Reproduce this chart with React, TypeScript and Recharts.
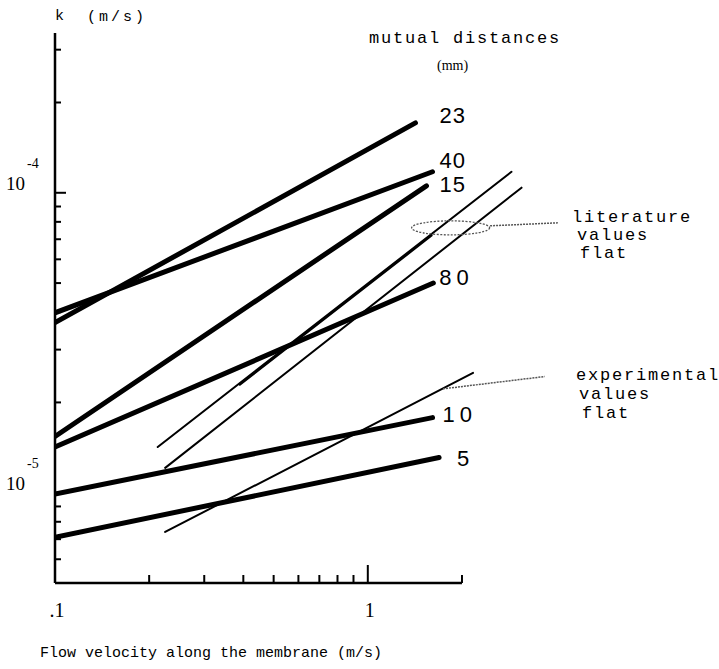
import { LineChart, Line, XAxis, YAxis, ReferenceLine, ReferenceDot, Customized } from "recharts";

// flow velocity (m/s) vs k (m/s), log-log
const xTicks = [0.1, 0.2, 0.3, 0.4, 0.5, 0.6, 0.7, 0.8, 0.9, 1, 2];
const xLabelled = [0.1, 1];
const xLabelText = [".1", "1"];
const yTicks = [6e-6, 7e-6, 8e-6, 9e-6, 1e-5, 2e-5, 3e-5, 4e-5, 5e-5, 6e-5, 7e-5, 8e-5, 9e-5, 1e-4, 2e-4, 3e-4];
const yDecades = [1e-5, 1e-4];
const yDecadeExp = ["-5", "-4"];

// mutual distances (mm)
const distances = ["23", "40", "15", "80", "10", "5"];
const mm23 = [{ x: 0.1, y: 3.69e-5 }, { x: 1.42, y: 1.71e-4 }];
const mm40 = [{ x: 0.1, y: 3.98e-5 }, { x: 1.61, y: 1.175e-4 }];
const mm15 = [{ x: 0.1, y: 1.54e-5 }, { x: 1.54, y: 1.055e-4 }];
const mm80 = [{ x: 0.1, y: 1.42e-5 }, { x: 1.62, y: 5.0e-5 }];
const mm10 = [{ x: 0.1, y: 9.9e-6 }, { x: 1.61, y: 1.78e-5 }];
const mm5 = [{ x: 0.1, y: 7.1e-6 }, { x: 1.69, y: 1.31e-5 }];

// literature values flat
const lit1 = [{ x: 0.213, y: 1.42e-5 }, { x: 2.88, y: 1.175e-4 }];
const lit2 = [{ x: 0.39, y: 2.29e-5 }, { x: 1.6, y: 7.2e-5 }];
const lit3 = [{ x: 0.225, y: 1.21e-5 }, { x: 3.1, y: 1.04e-4 }];
// experimental values flat
const exp1 = [{ x: 0.225, y: 7.4e-6 }, { x: 2.17, y: 2.51e-5 }];

// annotation anchors
const litEllipse = { x: 1.84, y: 7.64e-5 };
const litLeader = [{ x: 2.46, y: 7.76e-5 }, { x: 4.05, y: 7.94e-5 }];
const expLeader = [{ x: 1.74, y: 2.22e-5 }, { x: 3.68, y: 2.44e-5 }];

const thick = [mm23, mm40, mm15, mm80, mm10, mm5];
const thin = [lit1, lit2, lit3, exp1];
// label placement relative to the line end [dx, dy, letterSpacing]
const labelOffsets = [
  [24, 0, 1],
  [7, -4, 1],
  [13, 6, 1],
  [6, 2, 5],
  [10, 4, 5],
  [18, 8, 0],
];

const mono = "'Liberation Mono', 'Courier New', monospace";
const serif = "'Liberation Serif', 'Times New Roman', serif";
const sans = "'Liberation Sans', Arial, sans-serif";

const XTick = (props: any) => {
  const { x, y, payload } = props;
  const v = payload.value;
  const i = xLabelled.indexOf(v);
  const len = v === 1 ? 18 : 8;
  return (
    <g>
      <line x1={x} y1={y} x2={x} y2={y - len} stroke="#000" strokeWidth={2} />
      {i >= 0 && (
        <text x={x + 2} y={y + 34} textAnchor="middle" fontFamily={serif} fontSize={20} fill="#000">
          {xLabelText[i]}
        </text>
      )}
    </g>
  );
};

const YTick = (props: any) => {
  const { x, y, payload } = props;
  const v = payload.value;
  const i = yDecades.indexOf(v);
  const len = i >= 0 ? 11 : 6;
  return (
    <g>
      <line x1={x} y1={y} x2={x + len} y2={y} stroke="#000" strokeWidth={2} />
      {i >= 0 && (
        <g>
          <text x={x - 49} y={y - 3} fontFamily={serif} fontSize={19} fill="#000">10</text>
          <text x={x - 28} y={y - 25} fontFamily={serif} fontSize={14} fill="#000">{yDecadeExp[i]}</text>
        </g>
      )}
    </g>
  );
};

const endLabel = (k: number, count: number) => (p: any) => {
  const [dx, dy, ls] = labelOffsets[k];
  if (p.index !== count - 1) return <g key={p.index} />;
  return (
    <text key={p.index} x={p.x + dx} y={p.y + dy} fontFamily={sans} fontSize={22} letterSpacing={ls} fill="#000">
      {distances[k]}
    </text>
  );
};

const Notes = () => (
  <g fill="#000" fontFamily={mono}>
    <text x={55} y={20} fontSize={15}>k</text>
    <text x={87} y={21} fontSize={15} letterSpacing={3}>(m/s)</text>
    <text x={369} y={43} fontSize={17} letterSpacing={1.8}>mutual distances</text>
    <text x={437} y={70} fontSize={14} fontFamily={serif}>(mm)</text>
    <text x={572} y={222} fontSize={17} letterSpacing={1.8}>literature</text>
    <text x={577} y={240} fontSize={17} letterSpacing={1.8}>values</text>
    <text x={580} y={258} fontSize={17} letterSpacing={1.8}>flat</text>
    <text x={576} y={380} fontSize={17} letterSpacing={1.8}>experimental</text>
    <text x={579} y={399} fontSize={17} letterSpacing={1.8}>values</text>
    <text x={582} y={418} fontSize={17} letterSpacing={1.8}>flat</text>
    <text x={40} y={657} fontSize={15}>Flow velocity along the membrane (m/s)</text>
  </g>
);

export default function App() {
  return (
    <div style={{ position: "absolute", left: 0, top: 0, width: 719, height: 669, background: "#fff" }}>
      <LineChart width={719} height={669} margin={{ top: 33, right: 189, bottom: 0, left: 0 }}>
        <XAxis
          type="number"
          dataKey="x"
          scale="log"
          domain={[0.1, 3.3]}
          allowDataOverflow
          ticks={xTicks}
          interval={0}
          height={86}
          axisLine={false}
          tickLine={false}
          tickSize={0}
          tickMargin={0}
          tick={XTick}
        />
        <YAxis
          type="number"
          dataKey="y"
          scale="log"
          domain={[5e-6, 3.41e-4]}
          allowDataOverflow
          ticks={yTicks}
          interval={0}
          width={55}
          axisLine={{ stroke: "#000", strokeWidth: 2.5 }}
          tickLine={false}
          tickSize={0}
          tickMargin={0}
          tick={YTick}
        />
        <ReferenceLine
          segment={[{ x: 0.1, y: 5e-6 }, { x: 2, y: 5e-6 }]}
          stroke="#000"
          strokeWidth={2.5}
          ifOverflow="visible"
        />
        {thick.map((d, k) => (
          <Line
            key={"mm" + distances[k]}
            data={d}
            dataKey="y"
            stroke="#000"
            strokeWidth={5}
            strokeLinecap="round"
            dot={false}
            activeDot={false}
            isAnimationActive={false}
            label={endLabel(k, d.length)}
          />
        ))}
        {thin.map((d, k) => (
          <Line
            key={"thin" + k}
            data={d}
            dataKey="y"
            stroke="#000"
            strokeWidth={2}
            strokeLinecap="round"
            dot={false}
            activeDot={false}
            isAnimationActive={false}
          />
        ))}
        <ReferenceDot
          x={litEllipse.x}
          y={litEllipse.y}
          r={1}
          ifOverflow="visible"
          shape={(p: any) => (
            <ellipse cx={p.cx} cy={p.cy} rx={39} ry={7} fill="none" stroke="#555" strokeWidth={1.3} strokeDasharray="2 1.5" />
          )}
        />
        <ReferenceLine segment={litLeader} stroke="#555" strokeWidth={1.5} strokeDasharray="2 1" ifOverflow="visible" />
        <ReferenceLine segment={expLeader} stroke="#555" strokeWidth={1.5} strokeDasharray="2 1" ifOverflow="visible" />
        <Customized component={Notes} />
      </LineChart>
    </div>
  );
}
